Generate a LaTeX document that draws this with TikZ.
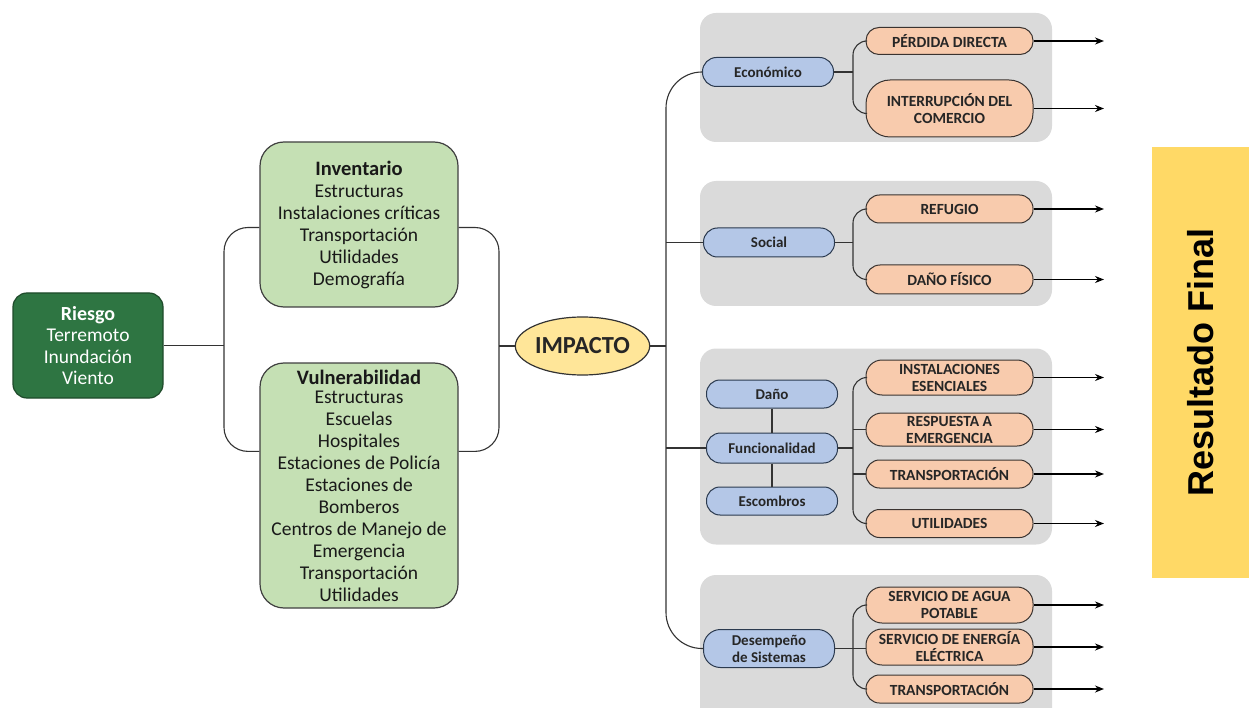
\documentclass[tikz,border=0pt]{standalone}
\usepackage{fontspec}
\setmainfont{Carlito}
\newfontfamily\arialf{Liberation Sans}
\usetikzlibrary{shapes.geometric,arrows.meta}
\definecolor{dgreen}{HTML}{2E7542}
\definecolor{dgreenb}{HTML}{1E4A2A}
\definecolor{lgreen}{HTML}{C5E0B4}
\definecolor{lblue}{HTML}{B4C7E7}
\definecolor{lorange}{HTML}{F8CBAD}
\definecolor{lgrey}{HTML}{DADADA}
\definecolor{lyellow}{HTML}{FFE699}
\definecolor{gold}{HTML}{FFD966}
\definecolor{edgeb}{HTML}{2B3A4F}
\definecolor{edgeo}{HTML}{3A3330}
\tikzset{
  riskbox/.style={draw=dgreenb, fill=dgreen, rounded corners=14pt, line width=1.2pt,
    minimum width=150pt, minimum height=105pt, text=white, align=center, inner sep=0pt,
    font=\fontsize{19.5}{21.5}\selectfont},
  greenbox/.style={draw=black!75, fill=lgreen, rounded corners=24pt, line width=1.2pt,
    minimum width=198pt, align=center, inner sep=0pt, text=black!90,
    font=\fontsize{19.5}{22}\selectfont},
  bluebox/.style={draw=edgeb, fill=lblue, line width=1pt, minimum width=131pt,
    inner sep=0pt, align=center, text=black!85, font=\bfseries\fontsize{15}{17}\selectfont},
  orangebox/.style={draw=edgeo, fill=lorange, line width=1pt, minimum width=167pt,
    inner sep=0pt, align=center, text=black!85, font=\bfseries\fontsize{15.5}{17}\selectfont},
  groupbox/.style={fill=lgrey, rounded corners=16pt, minimum width=352pt, inner sep=0pt},
  conn/.style={line width=1.1pt, draw=black!80},
  arr/.style={line width=1.4pt, draw=black, -{Stealth[length=9pt,width=7pt]}},
}
\begin{document}
\begin{tikzpicture}[x=1pt,y=-1pt]
\useasboundingbox (0,0) rectangle (1249,708);
% group backgrounds
\begin{scope}
\clip (0,0) rectangle (1249,708);
\node[groupbox, minimum height=129pt] (g1) at (876,77.5) {};
\node[groupbox, minimum height=125pt] (g2) at (876,243.5) {};
\node[groupbox, minimum height=196pt] (g3) at (876,446.5) {};
\node[groupbox, minimum height=150pt] (g4) at (876,650) {};
\end{scope}
% left part
\node[riskbox] (ries) at (88,345.5) {{\bfseries\fontsize{20}{22}\selectfont Riesgo}\\Terremoto\\Inundación\\Viento};
\node[greenbox, minimum height=165pt] (inv) at (359,224.5) {{\bfseries\fontsize{20.5}{22}\selectfont Inventario}\\Estructuras\\Instalaciones críticas\\Transportación\\Utilidades\\Demografía};
\node[greenbox, minimum height=245pt] (vul) at (359,485.5) {{\bfseries\fontsize{20.5}{22}\selectfont Vulnerabilidad}\\[-3pt]Estructuras\\Escuelas\\Hospitales\\Estaciones de Policía\\Estaciones de\\Bomberos\\Centros de Manejo de\\Emergencia\\Transportación\\Utilidades};
\node[ellipse, draw=black!80, fill=lyellow, line width=1.2pt, minimum width=129pt, minimum height=58pt, inner sep=0pt, font=\bfseries\fontsize{24.5}{26}\selectfont, text=black!85] (imp) at (582.5,346) {IMPACTO};
% blue nodes
\node[bluebox, rounded corners=14pt, minimum height=29pt] (eco) at (768,72) {Económico};
\node[bluebox, rounded corners=14pt, minimum height=29pt] (soc) at (769,242.5) {Social};
\node[bluebox, rounded corners=13.5pt, minimum height=28pt] (dano) at (772,394) {Daño};
\node[bluebox, rounded corners=14pt, minimum height=30pt] (fun) at (772,448) {Funcionalidad};
\node[bluebox, rounded corners=13.5pt, minimum height=28pt] (esc) at (772,501) {Escombros};
\node[bluebox, rounded corners=17pt, minimum height=38pt] (des) at (769,648.5) {Desempeño\\de Sistemas};
% orange nodes
\node[orangebox, rounded corners=13pt, minimum height=27pt] (per) at (949.5,41) {PÉRDIDA DIRECTA};
\node[orangebox, rounded corners=24pt, minimum height=57pt] (int) at (949.5,108.5) {INTERRUPCIÓN DEL\\COMERCIO};
\node[orangebox, rounded corners=13.5pt, minimum height=28pt] (ref) at (949.5,209) {REFUGIO};
\node[orangebox, rounded corners=14pt, minimum height=29pt] (dfi) at (949.5,279.5) {DAÑO FÍSICO};
\node[orangebox, rounded corners=16pt, minimum height=35pt] (ins) at (949.5,377.5) {INSTALACIONES\\ESENCIALES};
\node[orangebox, rounded corners=16pt, minimum height=33pt] (rsp) at (949.5,429.5) {RESPUESTA A\\EMERGENCIA};
\node[orangebox, rounded corners=13.5pt, minimum height=28pt] (tra) at (949.5,474) {TRANSPORTACIÓN};
\node[orangebox, rounded corners=13.5pt, minimum height=28pt] (uti) at (949.5,523.5) {UTILIDADES};
\node[orangebox, rounded corners=16pt, minimum height=36pt] (agu) at (949.5,605) {SERVICIO DE AGUA\\POTABLE};
\node[orangebox, rounded corners=16pt, minimum height=36pt] (ene) at (949.5,647) {SERVICIO DE ENERGÍA\\ELÉCTRICA};
\node[orangebox, rounded corners=13.5pt, minimum height=28pt] (tr2) at (949.5,689) {TRANSPORTACIÓN};
% final result
\node[fill=gold, rotate=90, minimum width=431pt, minimum height=97pt, inner sep=0pt,
  font=\arialf\bfseries\fontsize{36}{40}\selectfont] (fin) at (1200.5,362.5) {Resultado Final};
% coordinates
\coordinate (lb) at (224,345.5);
\coordinate (rb) at (499,346);
\coordinate (mv) at (666,346);
\coordinate (b1) at (853,72);
\coordinate (b2) at (853,242.5);
\coordinate (b3) at (853,448);
\coordinate (b4) at (853,648.5);
\coordinate (ax) at (1104,0);
% left brackets
\draw[conn] (ries.east) -- (lb);
\draw[conn, rounded corners=24pt] ([yshift=-3pt]inv.west) -| (lb) |- ([yshift=-89pt]vul.north west);
\draw[conn, rounded corners=24pt] ([yshift=-3pt]inv.east) -| (rb) |- ([yshift=-89pt]vul.north east);
\draw[conn] (rb) -- (imp.west);
% main trunk
\draw[conn] (imp.east) -- (mv);
\draw[conn, rounded corners=36pt] (eco.west) -| (mv) |- (des.west);
\draw[conn] (soc.west) -- (soc.west -| mv);
\draw[conn] (fun.west) -- (fun.west -| mv);
% group 1
\draw[conn] (eco.east) -- (b1);
\draw[conn, rounded corners=14pt] (per.west) -| (b1) |- ([yshift=-5pt]int.west);
% group 2
\draw[conn] (soc.east) -- (b2);
\draw[conn, rounded corners=14pt] (ref.west) -| (b2) |- (dfi.west);
% group 3
\draw[conn] (dano) -- (fun);
\draw[conn] (fun) -- (esc);
\draw[conn] (fun.east) -- (b3);
\draw[conn, rounded corners=14pt] (ins.west) -| (b3) |- (uti.west);
\draw[conn] (rsp.west) -- (rsp.west -| b3);
\draw[conn] (tra.west) -- (tra.west -| b3);
% group 4
\draw[conn] (des.east) -- (des.east -| ene.west);
\draw[conn, rounded corners=14pt] (agu.west) -| (b4) |- (tr2.west);
% arrows
\foreach \n in {per,int,ref,dfi,ins,rsp,tra,uti,agu,ene,tr2}
  \draw[arr] (\n.east) -- (\n.east -| ax);
\end{tikzpicture}
\end{document}
